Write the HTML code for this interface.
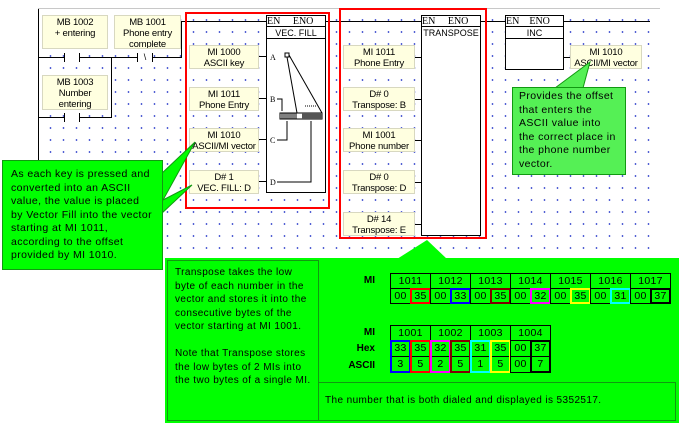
<!DOCTYPE html><html><head><meta charset="utf-8"><style>
*{margin:0;padding:0;box-sizing:border-box}
body{width:679px;height:423px;position:relative;overflow:hidden;background:#fff;font-family:"Liberation Sans",sans-serif;font-size:10px;color:#000}
.a{position:absolute}
.grid{position:absolute;left:40px;top:12px;width:620px;height:245px;background-image:radial-gradient(circle,#3344cc 0.7px,transparent 1px);background-size:13px 12px;background-position:4px 2px}
.c{position:absolute;background:#ffffe0;border:1px solid #d8d8c0;text-align:center;font-size:9.5px;line-height:11px;padding-top:1px;white-space:nowrap;letter-spacing:-0.2px;overflow:hidden}
.blk{position:absolute;background:#fff;border:1px solid #000}
.hd{position:absolute;left:0;right:0;top:0;height:11px;font-family:"Liberation Serif",serif;font-size:10px;line-height:11px;border-bottom:1px solid #000}
.nm{position:absolute;left:0;right:0;top:11px;height:12px;text-align:center;font-size:9px;line-height:12px;border-bottom:1px solid #000}
.h{position:absolute;height:1px;background:#000}
.v{position:absolute;width:1px;background:#000}
.red{position:absolute;border:2px solid #f00}
.t{position:absolute;font-size:10.5px;text-align:center;border:1px solid #000;letter-spacing:0.3px}
.b{position:absolute;border:2px solid}
.lbl{position:absolute;font-weight:bold;font-size:10px;text-align:right;width:40px}
.txt{letter-spacing:0.4px}
</style></head><body>
<div class="grid"></div>
<div class="v" style="left:38px;top:8px;height:262px"></div>
<div class="a" style="left:38px;top:8px;width:622px;height:1px;background:#c8c8c8"></div>
<div class="h" style="left:180px;top:21px;width:470px"></div>
<div class="c" style="left:42px;top:15px;width:66px;height:34px">MB 1002<br>+ entering</div>
<div class="c" style="left:114px;top:15px;width:67px;height:34px">MB 1001<br>Phone entry<br>complete</div>
<div class="c" style="left:42px;top:75px;width:66px;height:35px">MB 1003<br>Number<br>entering</div>
<div class="h" style="left:38px;top:57px;width:143px"></div>
<div class="v" style="left:181px;top:21px;height:37px"></div>
<div class="v" style="left:111px;top:57px;height:61px"></div>
<div class="h" style="left:38px;top:117px;width:74px"></div>
<div class="a" style="left:64px;top:53px;height:9px;border-left:1px solid #000;border-right:1px solid #000;background:#fff;width:16px"></div>
<div class="a" style="left:137px;top:53px;width:16px;height:9px;border-left:1px solid #000;border-right:1px solid #000;background:#fff;font-size:9px;line-height:9px;text-align:center">\</div>
<div class="a" style="left:64px;top:113px;width:16px;height:9px;border-left:1px solid #000;border-right:1px solid #000;background:#fff"></div>

<div class="red" style="left:185px;top:12px;width:145px;height:197px"></div>
<div class="blk" style="left:266px;top:15px;width:60px;height:178px"><div class="hd">EN&nbsp;&nbsp;&nbsp;&nbsp;&nbsp;ENO</div><div class="nm">VEC. FILL</div>
<svg class="a" style="left:0;top:0" width="58" height="176"><rect x="18" y="37" width="4" height="4" fill="none" stroke="#000"/><line x1="20" y1="41" x2="30" y2="97" stroke="#000"/><line x1="22" y1="39" x2="55" y2="97" stroke="#000"/><rect x="13" y="97" width="42" height="6" fill="#fff" stroke="#000"/><line x1="15" y1="97" x2="15" y2="103" stroke="#000"/><line x1="17" y1="97" x2="17" y2="103" stroke="#000"/><line x1="19" y1="97" x2="19" y2="103" stroke="#000"/><line x1="21" y1="97" x2="21" y2="103" stroke="#000"/><line x1="23" y1="97" x2="23" y2="103" stroke="#000"/><line x1="25" y1="97" x2="25" y2="103" stroke="#000"/><line x1="27" y1="97" x2="27" y2="103" stroke="#000"/><line x1="29" y1="97" x2="29" y2="103" stroke="#000"/><rect x="35" y="97" width="20" height="6" fill="#555"/><line x1="38" y1="90" x2="50" y2="90" stroke="#000" stroke-dasharray="1,1"/><path d="M10 83 H15 V95 M10 124 H20 V105 M10 166 H44 V105" fill="none" stroke="#000"/><text x="3" y="44" font-size="8" font-family="Liberation Serif">A</text><text x="3" y="86" font-size="8" font-family="Liberation Serif">B</text><text x="3" y="127" font-size="8" font-family="Liberation Serif">C</text><text x="3" y="169" font-size="8" font-family="Liberation Serif">D</text></svg></div>
<div class="c" style="left:189px;top:45px;width:70px;height:24px">MI 1000<br>ASCII key</div>
<div class="c" style="left:189px;top:87px;width:70px;height:24px">MI 1011<br>Phone Entry</div>
<div class="c" style="left:189px;top:128px;width:70px;height:24px">MI 1010<br>ASCII/MI vector</div>
<div class="c" style="left:189px;top:170px;width:70px;height:24px">D# 1<br>VEC. FILL: D</div>
<div class="h" style="left:259px;top:56px;width:7px"></div><div class="h" style="left:259px;top:98px;width:7px"></div><div class="h" style="left:259px;top:139px;width:7px"></div><div class="h" style="left:259px;top:181px;width:7px"></div>

<div class="red" style="left:339px;top:8px;width:148px;height:231px"></div>
<div class="blk" style="left:421px;top:15px;width:60px;height:221px"><div class="hd">EN&nbsp;&nbsp;&nbsp;&nbsp;&nbsp;ENO</div><div class="a" style="top:11px;left:0;right:0;text-align:center;font-size:9px;line-height:12px">TRANSPOSE</div></div>
<div class="c" style="left:343px;top:45px;width:72px;height:24px">MI 1011<br>Phone Entry</div>
<div class="c" style="left:343px;top:87px;width:72px;height:24px">D# 0<br>Transpose: B</div>
<div class="c" style="left:343px;top:128px;width:72px;height:24px">MI 1001<br>Phone number</div>
<div class="c" style="left:343px;top:170px;width:72px;height:24px">D# 0<br>Transpose: D</div>
<div class="c" style="left:343px;top:212px;width:72px;height:24px">D# 14<br>Transpose: E</div>
<div class="h" style="left:415px;top:57px;width:6px"></div><div class="h" style="left:415px;top:99px;width:6px"></div><div class="h" style="left:415px;top:140px;width:6px"></div><div class="h" style="left:415px;top:182px;width:6px"></div><div class="h" style="left:415px;top:224px;width:6px"></div>

<div class="blk" style="left:505px;top:15px;width:59px;height:55px"><div class="hd">EN&nbsp;&nbsp;&nbsp;&nbsp;ENO</div><div class="nm">INC</div></div>
<div class="h" style="left:564px;top:57px;width:6px"></div>
<div class="c" style="left:570px;top:45px;width:72px;height:24px">MI 1010<br>ASCII/MI vector</div>

<svg class="a" style="left:0;top:0" width="679" height="423">
<polygon points="555,88 590,62 583,88" fill="#55f055" stroke="#119911"/>
<polygon points="160,175 195,142 163,200 192,185 160,215" fill="#00ff00" stroke="#119911"/>
<polygon points="397,259 427,240 447,259" fill="#00ff00"/>
</svg>
<div class="a txt" style="left:512px;top:87px;width:114px;height:88px;background:#55f055;border:1px solid #119911;padding:2px 6px;font-size:10.5px;line-height:13.5px">Provides the offset that enters the ASCII value into the correct place in the phone number vector.</div>
<div class="a txt" style="left:2px;top:160px;width:161px;height:110px;background:#00ff00;border:1px solid #119911;padding:7px 8px;font-size:10.5px;line-height:13.5px">As each key is pressed and converted into an ASCII value, the value is placed by Vector Fill into the vector starting at MI 1011, according to the offset provided by MI 1010.</div>
<div class="a" style="left:165px;top:258px;width:514px;height:165px;background:#00ff00"></div>
<div class="a txt" style="left:167px;top:260px;width:152px;height:161px;border:1px solid #119911;padding:5px 7px;font-size:10px;line-height:13.5px">Transpose takes the low byte of each number in the vector and stores it into the consecutive bytes of the vector starting at MI 1001.<br><br>Note that Transpose stores the low bytes of 2 MIs into the two bytes of a single MI.</div>
<div class="a txt" style="left:318px;top:382px;width:358px;height:39px;border:1px solid #119911;padding:12px 6px;font-size:10px">The number that is both dialed and displayed is 5352517.</div>
<div class="lbl" style="left:335px;top:275px">MI</div>
<div class="lbl" style="left:335px;top:327px">MI</div>
<div class="lbl" style="left:335px;top:343px">Hex</div>
<div class="lbl" style="left:335px;top:360px">ASCII</div>
<div id="t"></div>
<script>
var h='',cols=['#f00','#00f','#800000','#f0f','#ff0','#0ff','#000'];
for(var i=0;i<7;i++){var x=390+i*40;h+='<div class="t" style="left:'+x+'px;top:273px;width:41px;height:16px;line-height:14px">'+(1011+i)+'</div>';
h+='<div class="t" style="left:'+x+'px;top:288px;width:21px;height:16px;line-height:14px">00</div><div class="t" style="left:'+(x+20)+'px;top:288px;width:21px;height:16px;line-height:14px">'+['35','33','35','32','35','31','37'][i]+'</div>';
h+='<div class="b" style="border-color:'+cols[i]+';left:'+(x+20)+'px;top:288px;width:21px;height:16px"></div>';}
var hx=['33','35','32','35','31','35','00','37'],as=['3','5','2','5','1','5','00','7'],c2=['#00f','#f00','#f0f','#800000','#0ff','#ff0','','#000'];
for(var i=0;i<4;i++){h+='<div class="t" style="left:'+(390+i*40)+'px;top:325px;width:41px;height:16px;line-height:14px">'+(1001+i)+'</div>';}
for(var j=0;j<8;j++){var x=390+j*20;h+='<div class="t" style="left:'+x+'px;top:340px;width:21px;height:17px;line-height:15px">'+hx[j]+'</div><div class="t" style="left:'+x+'px;top:356px;width:21px;height:17px;line-height:15px">'+as[j]+'</div>';
if(c2[j])h+='<div class="b" style="border-color:'+c2[j]+';left:'+x+'px;top:340px;width:21px;height:33px"></div>';}
document.getElementById('t').innerHTML=h;
</script>
</body></html>
